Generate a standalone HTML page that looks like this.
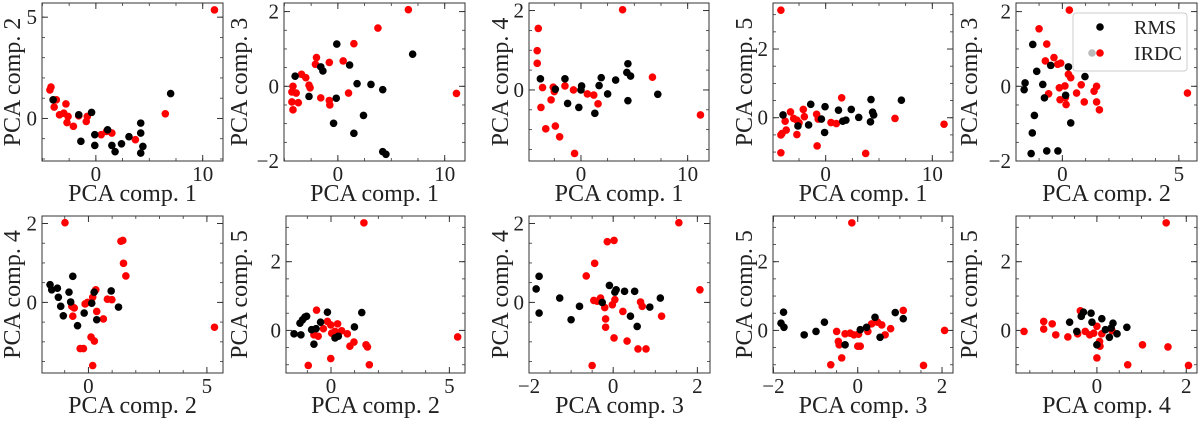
<!DOCTYPE html>
<html><head><meta charset="utf-8"><style>
html,body{margin:0;padding:0;background:#fff;}
svg{display:block;font-family:"Liberation Serif",serif;}
</style></head><body>
<svg id="fig" width="1200" height="425" viewBox="0 0 1200 425" xmlns="http://www.w3.org/2000/svg"></svg>
<script>
// ---- data (per panel: [x,y] pairs) ----
const p1Rms=[[-4.0,0.92],[-1.6,0.18],[-0.4,0.3],[-1.4,-1.13],[-0.1,-0.8],[-0.1,-1.33],[1.1,-0.56],[1.5,-1.33],[1.8,-1.64],[2.4,-1.25],[3.1,-0.9],[4.2,-0.23],[4.2,-0.72],[4.4,-1.38],[4.2,-1.71],[7.0,1.23]];
const p1Irdc=[[11.1,5.36],[-4.2,1.55],[-4.3,1.41],[-3.7,0.92],[-3.9,0.56],[-2.8,0.72],[-3.4,0.18],[-3.0,0.26],[-2.6,0.1],[-2.7,-0.2],[-2.1,-0.39],[-1.6,0.13],[-0.8,0.1],[-0.9,-0.15],[0.5,-0.8],[1.0,-0.64],[1.5,-0.72],[3.7,-1.05],[6.5,0.23]];
const p2Rms=[[-0.1,1.13],[7.0,0.86],[-4.0,0.27],[-1.6,0.52],[-1.4,0.41],[1.1,0.57],[1.8,0.07],[3.1,0.05],[4.2,-0.09],[-2.7,-0.27],[-0.15,-0.32],[-0.4,-0.99],[2.4,-0.78],[1.5,-1.26],[4.2,-1.75],[4.5,-1.82]];
const p2Irdc=[[6.6,2.05],[3.75,1.56],[1.5,1.14],[-2.0,0.77],[-2.1,0.59],[-0.8,0.64],[0.5,0.68],[-3.4,0.32],[-3.0,0.23],[-2.7,0.03],[-2.6,-0.04],[-4.2,0],[-4.3,-0.15],[-3.9,-0.18],[-4.3,-0.42],[-3.7,-0.44],[-4.2,-0.63],[-1.6,-0.31],[-0.8,-0.38],[-0.75,-0.5],[1.0,-0.18],[11.1,-0.19]];
const p3Rms=[[-3.8,0.28],[-1.5,0.28],[-1.25,-0.34],[-0.2,-0.44],[0.06,0.1],[0,0],[1.3,-0.59],[1.7,0.11],[1.9,0.31],[2.5,-0.1],[3.25,0.25],[4.4,0.66],[4.3,0.44],[4.65,0.35],[4.4,-0.27],[7.2,-0.11],[-2.4,0.02]];
const p3Irdc=[[3.9,2.02],[-4.0,1.55],[-4.1,0.99],[-4.1,0.67],[-3.6,0.06],[-3.75,-0.44],[-3.3,-0.98],[-2.8,-0.25],[-2.6,0.07],[-2.5,-0.04],[-2.4,-0.91],[-2.0,-1.18],[-1.5,0.1],[-0.7,0],[-0.6,-1.6],[0.6,-0.1],[1.2,-0.13],[1.6,-0.35],[6.7,0.32],[11.2,-0.63]];
const p4Rms=[[-4.0,0.08],[-2.6,-0.24],[-1.6,-0.21],[-1.4,0.39],[-0.4,-0.04],[-0.06,0.32],[-0.1,-0.43],[1.2,0.22],[1.6,-0.1],[1.9,-0.07],[2.4,0.24],[3.1,0.01],[4.25,0.53],[4.4,0.16],[4.2,-0.12],[4.5,0.08],[7.1,0.51]];
const p4Irdc=[[-4.2,3.13],[1.5,0.58],[-3.3,0.17],[-4.1,-0.46],[-4.2,-0.5],[-3.7,-0.36],[-3.8,-0.1],[-4.2,-1.02],[-3.0,-0.02],[-2.7,-0.07],[-2.5,-0.15],[-2.1,0.24],[-2.0,0.03],[-2.7,-0.49],[-0.85,0.1],[-0.7,-0.04],[-0.8,-0.82],[0.5,-0.14],[1.0,-0.17],[3.75,-1.04],[6.5,-0.02],[11.1,-0.19]];
const p5Rms=[[-1.27,1.12],[-1.1,0.4],[-1.6,0.09],[-1.64,-0.09],[-0.84,0.05],[-0.77,-0.31],[-1.2,-0.78],[-1.29,-1.25],[-1.34,-1.8],[-0.67,-1.73],[-0.19,-1.73],[-0.5,0.56],[0.26,0.52],[0.97,0.26],[0.14,-0.24],[0.36,-0.98]];
const p5Irdc=[[0.3,2.04],[-1.0,1.54],[-0.67,1.13],[-0.36,0.77],[-0.73,0.68],[-0.2,0.59],[-0.07,0.62],[0.26,0.32],[0.36,0.23],[-0.59,-0.2],[-0.13,-0.04],[0.11,0.01],[-0.1,-0.36],[0.13,-0.3],[0.16,-0.49],[0.61,-0.18],[0.81,0.04],[0.94,-0.42],[1.36,-0.13],[1.47,0],[1.47,-0.42],[1.59,-0.63],[5.37,-0.18]];
const p6Rms=[[-1.62,0.45],[-1.55,0.32],[-1.31,0.36],[-1.27,0.13],[-1.17,-0.1],[-1.06,-0.34],[-0.82,0.26],[-0.75,0.01],[-0.66,0.66],[-0.46,-0.59],[-0.18,-0.27],[0.14,-0.02],[0.24,0.26],[0.35,-0.44],[0.96,0.29],[1.27,-0.12]];
const p6Irdc=[[-0.99,2.02],[1.37,1.55],[1.45,1.57],[1.48,0.99],[1.58,0.67],[5.32,-0.63],[-0.7,-0.1],[-0.6,-0.14],[-0.66,-0.35],[-0.14,-0.04],[-0.04,0],[0.18,0.13],[0.31,0.32],[0.35,-0.23],[0.63,-0.42],[0.8,0.08],[0.99,0.07],[-0.35,-1.17],[-0.21,-1.17],[0.11,-0.88],[0.25,-0.98],[0.18,-1.6]];
const p7Rms=[[-1.56,-0.1],[-1.27,-0.13],[-1.31,0.21],[-1.2,0.31],[-1.1,0.39],[-1.03,0.41],[-0.82,0.02],[-0.72,-0.4],[-0.63,0.05],[-0.44,0.24],[-0.15,0.53],[0.17,-0.22],[0.31,-0.17],[0.99,0.1],[1.3,0.52]];
const p7Irdc=[[1.39,3.13],[5.35,-0.19],[-0.61,0.59],[-0.72,-0.13],[-0.54,-0.17],[-0.32,0.05],[-0.15,0.26],[-0.01,0.16],[0.03,-0.08],[0.28,0.19],[0.31,-0.08],[0.45,-0.01],[0.69,-0.1],[0.8,-0.46],[0.97,-0.34],[1.48,-0.42],[1.54,-0.48],[1.62,-1.0],[-0.96,-1.02],[-0.01,-0.82],[0.17,-0.03]];
const p8Rms=[[-1.76,0.66],[-1.83,0.34],[-1.76,-0.27],[-1.27,0.11],[-1.0,-0.44],[-0.8,-0.1],[-0.26,0],[-0.09,0.43],[0.04,0.26],[0.07,0.32],[0.27,0.28],[0.41,-0.35],[0.51,0.28],[0.57,-0.61],[0.87,-0.12],[1.12,0.11]];
const p8Irdc=[[1.56,2.02],[2.06,0.32],[-0.14,1.54],[0.02,1.57],[-0.44,0.99],[-0.64,0.67],[-0.46,0.05],[-0.38,0.03],[-0.3,0.11],[-0.2,-0.13],[-0.02,-0.06],[0.04,0.07],[-0.18,-0.42],[-0.18,-0.63],[0.23,-0.23],[0.02,-0.9],[0.33,-0.98],[0.59,-1.18],[0.78,-1.18],[0.65,0.01],[0.69,-0.1],[1.15,-0.35],[-0.5,-1.6]];
const p9Rms=[[-1.82,0.21],[-1.76,0.53],[-1.75,0.09],[-1.27,-0.13],[-0.99,-0.03],[-0.79,0.24],[-0.3,-0.42],[0.06,0.02],[0.21,0.09],[0.41,0.38],[0.53,-0.2],[0.89,0.52],[1.08,0.34]];
const p9Irdc=[[-0.14,3.13],[2.06,0],[1.56,-1.02],[-0.64,-1.0],[-0.38,-0.8],[-0.5,-0.03],[-0.46,-0.32],[-0.44,-0.42],[-0.3,-0.1],[-0.18,-0.08],[-0.09,-0.13],[0.02,-0.11],[0,-0.46],[0.06,-0.46],[0.24,-0.03],[0.33,0.19],[0.47,0.24],[0.57,0.16],[0.65,-0.13],[0.78,0.05],[1.08,0.58]];
const p10Rms=[[-0.61,0.24],[-0.45,-0.03],[-0.35,0.41],[-0.3,0.53],[-0.13,0.5],[-0.11,0.24],[0,-0.42],[0.11,0.34],[0.19,0.02],[0.28,-0.2],[0.32,0.07],[0.36,0.21],[0.45,-0.1],[0.67,0.09]];
const p10Irdc=[[1.55,3.13],[-1.63,-0.03],[-1.19,0.26],[-1.19,0.04],[-1.0,0.19],[-0.92,-0.13],[-0.65,-0.19],[-0.43,-0.1],[-0.37,0.57],[-0.26,-0.03],[-0.16,-0.13],[-0.07,-0.08],[0,0.12],[0.06,-0.32],[0.07,-0.46],[0.11,-0.1],[0,-0.8],[0.34,-0.01],[1.02,-0.42],[1.59,-0.48],[0.69,-1.0],[2.05,-1.02]];
const xTicks=[[0,10],[0,10],[0,10],[0,10],[0,5],[0,5],[0,5],[-2,0,2],[-2,0,2],[0,2]];
const yTicks=[[0,5],[-2,0,2],[0,2],[0,2],[-2,0,2],[0,2],[0,2],[0,2],[0,2],[0,2]];
const xLabels=["PCA comp. 1","PCA comp. 1","PCA comp. 1","PCA comp. 1","PCA comp. 2","PCA comp. 2","PCA comp. 2","PCA comp. 3","PCA comp. 3","PCA comp. 4"];
const yLabels=["PCA comp. 2","PCA comp. 3","PCA comp. 4","PCA comp. 5","PCA comp. 3","PCA comp. 4","PCA comp. 5","PCA comp. 4","PCA comp. 5","PCA comp. 5"];
const rmsSets=[p1Rms,p2Rms,p3Rms,p4Rms,p5Rms,p6Rms,p7Rms,p8Rms,p9Rms,p10Rms];
const irdcSets=[p1Irdc,p2Irdc,p3Irdc,p4Irdc,p5Irdc,p6Irdc,p7Irdc,p8Irdc,p9Irdc,p10Irdc];

// ---- layout ----
const boxes=[[42,3,223,161],[284,3,465,161],[529,3,709,161],[773,3,953,161],[1016,3,1197,161],
             [42,216,223,373],[286,216,465,373],[529,216,710,373],[773,216,953,373],[1016,216,1197,373]];
const xDom=[[-5.04,11.9],[-5.04,11.9],[-4.87,12.0],[-4.94,11.94],[-1.99,5.78],[-1.96,5.68],[-1.9,5.66],[-2.0,2.3],[-2.01,2.26],[-1.81,2.24]];
const yDom=[[-2.1,5.7],[-2.0,2.23],[-1.79,2.19],[-1.26,3.34],[-2.0,2.23],[-1.79,2.19],[-1.24,3.33],[-1.79,2.19],[-1.24,3.33],[-1.24,3.33]];
const minorStep=[[2.5,1],[2.5,0.5],[2.5,0.5],[2.5,0.5],[1,0.5],[1,0.5],[1,0.5],[0.5,0.5],[0.5,0.5],[0.5,0.5]];
const yTitleX=[20,247,508,752,977,20,247,508,752,977];

const NS="http://www.w3.org/2000/svg";
const svg=document.getElementById('fig');
function mk(tag,attrs,parent){const e=document.createElementNS(NS,tag);for(const k in attrs)e.setAttribute(k,attrs[k]);(parent||svg).appendChild(e);return e;}
function fmt(v){return v<0?"\u2212"+Math.abs(v):String(v);}

for(let i=0;i<10;i++){
  const [x0,y0,x1,y1]=boxes[i];
  const sx=v=>x0+(v-xDom[i][0])/(xDom[i][1]-xDom[i][0])*(x1-x0);
  const sy=v=>y1-(v-yDom[i][0])/(yDom[i][1]-yDom[i][0])*(y1-y0);
  const g=mk('g',{});
  
  
  const [mx,my]=minorStep[i];
  for(let v=Math.ceil(xDom[i][0]/mx)*mx;v<=xDom[i][1];v+=mx){const X=sx(v);mk('line',{x1:X,x2:X,y1:y1,y2:y1-3,stroke:'#333','stroke-width':0.8},g);mk('line',{x1:X,x2:X,y1:y0,y2:y0+3,stroke:'#333','stroke-width':0.8},g);}
  for(let v=Math.ceil(yDom[i][0]/my)*my;v<=yDom[i][1];v+=my){const Y=sy(v);mk('line',{x1:x0,x2:x0+3,y1:Y,y2:Y,stroke:'#333','stroke-width':0.8},g);mk('line',{x1:x1,x2:x1-3,y1:Y,y2:Y,stroke:'#333','stroke-width':0.8},g);}
  xTicks[i].forEach(v=>{const X=sx(v);
    mk('line',{x1:X,x2:X,y1:y1,y2:y1-6,stroke:'#333','stroke-width':1},g);
    mk('line',{x1:X,x2:X,y1:y0,y2:y0+6,stroke:'#333','stroke-width':1},g);
    const t=mk('text',{x:X,y:y1+20,'font-size':21,'text-anchor':'middle',fill:'#222'},g);t.textContent=fmt(v);
    
    });
  yTicks[i].forEach(v=>{const Y=sy(v);
    mk('line',{x1:x0,x2:x0+6,y1:Y,y2:Y,stroke:'#333','stroke-width':1},g);
    mk('line',{x1:x1,x2:x1-6,y1:Y,y2:Y,stroke:'#333','stroke-width':1},g);
    const t=mk('text',{x:x0-5,y:Y+7,'font-size':21,'text-anchor':'end',fill:'#222'},g);t.textContent=fmt(v);
    
    });
  irdcSets[i].forEach(p=>{const c=mk('circle',{cx:sx(p[0]),cy:sy(p[1]),r:3.8,fill:'#ff0000'},g);
    
    });
  rmsSets[i].forEach(p=>{const c=mk('circle',{cx:sx(p[0]),cy:sy(p[1]),r:3.8,fill:'#000'},g);
    
    });
  const f=mk('rect',{x:x0,y:y0,width:x1-x0,height:y1-y0,fill:'none',stroke:'#333','stroke-width':1},g);
  
  
  const xl=mk('text',{x:(x0+x1)/2,y:(i<5?201:413),'font-size':24,'text-anchor':'middle',fill:'#222'},g);
  xl.textContent=xLabels[i];
  
  
  const yl=mk('text',{x:0,y:0,'font-size':24,'text-anchor':'middle',fill:'#222',transform:`translate(${yTitleX[i]},${(y0+y1)/2}) rotate(-90)`},g);
  yl.textContent=yLabels[i];
  
  
}
const lg=mk('g',{});


mk('rect',{x:1073,y:13,width:114,height:58,rx:3,fill:'#fff','fill-opacity':0.85,stroke:'#ccc','stroke-width':1},lg);
const e1=mk('circle',{cx:1100,cy:27,r:3.8,fill:'#000'},lg);


const t1=mk('text',{x:1134,y:34,'font-size':20,fill:'#222'},lg);t1.textContent='RMS';


mk('circle',{cx:1092,cy:53,r:3.8,fill:'#bbb'},lg);
const e2=mk('circle',{cx:1100,cy:53,r:3.8,fill:'#ff0000'},lg);


const t2=mk('text',{x:1134,y:60,'font-size':20,fill:'#222'},lg);t2.textContent='IRDC';


</script>
</body></html>
